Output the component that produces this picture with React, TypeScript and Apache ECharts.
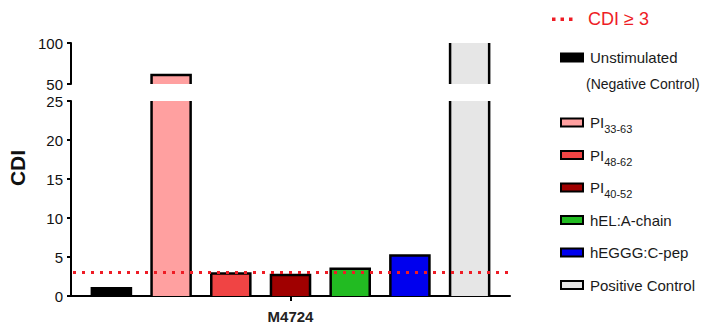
import React, { useEffect, useRef } from 'react';
import * as echarts from 'echarts';

const CATEGORIES = ['M4724'];
const SERIES_NAMES = ['Unstimulated', 'PI33-63', 'PI48-62', 'PI40-52', 'hEL:A-chain', 'hEGGG:C-pep', 'Positive Control'];
const SERIES_VALUES = [1.0, 61, 2.9, 2.7, 3.5, 5.2, 120];
const SERIES_COLORS = ['#000000', '#ffa0a0', '#f04444', '#a00000', '#22bb22', '#0000ee', '#e6e6e6'];
const THRESHOLD = 3;
const THRESHOLD_LABEL = 'CDI \u2265 3';
const NEG_CONTROL_NOTE = '(Negative Control)';
const Y_UPPER_RANGE = [50, 100];
const Y_UPPER_STEP = 50;
const Y_LOWER_RANGE = [0, 25];
const Y_LOWER_STEP = 5;
const Y_NAME = 'CDI';

const FONT = '"Liberation Sans", Arial, sans-serif';
const N = SERIES_NAMES.length;
const PITCH = 0.136; // fraction of band between bar centres
const BAR_W = 0.089; // fraction of band per bar
const BORDER = 2.5;

function makeBarRender(idx: number, lo: number, hi: number, color: string) {
  return (params: any, api: any) => {
    const v = api.value(1) as number;
    if (!(v > lo)) return null;
    const c = api.value(0);
    const basePt = api.coord([c, lo]);
    const topPt = api.coord([c, Math.min(v, hi)]);
    const band = api.size([1, 0])[0];
    const cx = basePt[0] + (idx - (N - 1) / 2) * band * PITCH;
    const w = band * BAR_W;
    const x0 = cx - w / 2;
    const x1 = cx + w / 2;
    const yb = basePt[1];
    const yt = topPt[1];
    const stroke = { stroke: '#000', lineWidth: BORDER, fill: 'none', lineJoin: 'miter' };
    const children: any[] = [
      { type: 'rect', shape: { x: x0, y: yt, width: w, height: yb - yt }, style: { fill: color } },
    ];
    if (v <= hi) {
      children.push({ type: 'polyline', shape: { points: [[x0, yb], [x0, yt], [x1, yt], [x1, yb]] }, style: stroke });
    } else {
      children.push({ type: 'line', shape: { x1: x0, y1: yb, x2: x0, y2: yt }, style: stroke });
      children.push({ type: 'line', shape: { x1: x1, y1: yb, x2: x1, y2: yt }, style: stroke });
    }
    return { type: 'group', children };
  };
}

function legendFormatter(name: string) {
  const m = /^PI(\d+-\d+)$/.exec(name);
  if (m) return `{m|PI}{s|${m[1]}}`;
  return `{m|${name}}{s| }`;
}

export default function App() {
  const ref = useRef<HTMLDivElement>(null);
  useEffect(() => {
    if (!ref.current) return;
    const chart = echarts.init(ref.current, undefined, { renderer: 'svg' });

    const axisLine = { show: true, lineStyle: { color: '#000', width: 2 } };
    const axisTick = { show: true, length: 4, lineStyle: { color: '#000', width: 2 } };
    const yLabel = { color: '#111', fontSize: 15, fontFamily: FONT, margin: 8 };

    const series: any[] = [];
    SERIES_NAMES.forEach((name, i) => {
      const color = SERIES_COLORS[i];
      [
        { grid: 0, lo: Y_UPPER_RANGE[0], hi: Y_UPPER_RANGE[1] },
        { grid: 1, lo: Y_LOWER_RANGE[0], hi: Y_LOWER_RANGE[1] },
      ].forEach((g) => {
        series.push({
          type: 'custom',
          name,
          xAxisIndex: g.grid,
          yAxisIndex: g.grid,
          itemStyle: { color, borderColor: '#000', borderWidth: 2 },
          encode: { x: 0, y: 1 },
          data: [[0, SERIES_VALUES[i]]],
          renderItem: makeBarRender(i, g.lo, g.hi, color),
          z: 2,
        });
      });
    });
    series.push({
      type: 'custom',
      name: THRESHOLD_LABEL,
      xAxisIndex: 1,
      yAxisIndex: 1,
      encode: { x: 0, y: 1 },
      data: [[0, THRESHOLD]],
      z: 10,
      renderItem: (params: any, api: any) => {
        const cs = params.coordSys;
        const y = api.coord([api.value(0), api.value(1)])[1];
        return {
          type: 'line',
          shape: { x1: cs.x + 2, y1: y, x2: cs.x + cs.width, y2: y },
          style: { stroke: '#ee1c25', lineWidth: 3, lineDash: [3, 6], lineCap: 'butt' },
        };
      },
    });

    const legendText = {
      color: '#1a1a1a',
      fontFamily: FONT,
      fontSize: 15,
      padding: [0, 0, 0, 2],
      rich: {
        m: { fontSize: 15, fontFamily: FONT, color: '#1a1a1a', lineHeight: 24, verticalAlign: 'middle' },
        s: { fontSize: 11, fontFamily: FONT, color: '#1a1a1a', lineHeight: 24, verticalAlign: 'bottom' },
      },
    };
    const legendCommon = {
      orient: 'vertical',
      left: 555,
      itemWidth: 22,
      itemHeight: 8,
      icon: 'rect',
      selectedMode: false,
      itemStyle: { borderColor: '#000', borderWidth: 2 },
      textStyle: legendText,
      formatter: legendFormatter,
    };

    chart.setOption({
      animation: false,
      grid: [
        { left: 71, top: 43, width: 439, height: 41 },
        { left: 71, top: 101, width: 439, height: 196 },
      ],
      xAxis: [
        { type: 'category', gridIndex: 0, data: CATEGORIES, show: false },
        {
          type: 'category',
          gridIndex: 1,
          data: CATEGORIES,
          axisLine,
          axisTick: { show: true, alignWithLabel: true, length: 5, lineStyle: { color: '#000', width: 2 } },
          axisLabel: { color: '#222', fontSize: 15, fontWeight: 'bold', fontFamily: FONT, margin: 13 },
        },
      ],
      yAxis: [
        {
          type: 'value',
          gridIndex: 0,
          min: Y_UPPER_RANGE[0],
          max: Y_UPPER_RANGE[1],
          interval: Y_UPPER_STEP,
          axisLine,
          axisTick,
          axisLabel: yLabel,
          splitLine: { show: false },
        },
        {
          type: 'value',
          gridIndex: 1,
          min: Y_LOWER_RANGE[0],
          max: Y_LOWER_RANGE[1],
          interval: Y_LOWER_STEP,
          axisLine,
          axisTick,
          axisLabel: yLabel,
          splitLine: { show: false },
        },
      ],
      legend: [
        { ...legendCommon, top: 45, data: [SERIES_NAMES[0]] },
        { ...legendCommon, top: 110, itemGap: 13, data: SERIES_NAMES.slice(1) },
      ],
      graphic: [
        {
          type: 'text',
          x: 17,
          y: 168,
          rotation: Math.PI / 2,
          style: { text: Y_NAME, font: `bold 21px ${FONT}`, fill: '#111', align: 'center', verticalAlign: 'middle' },
        },
        {
          type: 'text',
          x: 586,
          y: 84,
          style: { text: NEG_CONTROL_NOTE, font: `14px ${FONT}`, fill: '#1a1a1a', align: 'left', verticalAlign: 'middle' },
        },
        { type: 'rect', shape: { x: 552, y: 17.5, width: 3.5, height: 3.5 }, style: { fill: '#ee1c25' } },
        { type: 'rect', shape: { x: 560.5, y: 17.5, width: 3.5, height: 3.5 }, style: { fill: '#ee1c25' } },
        { type: 'rect', shape: { x: 569, y: 17.5, width: 3.5, height: 3.5 }, style: { fill: '#ee1c25' } },
        {
          type: 'text',
          x: 588,
          y: 19,
          style: { text: THRESHOLD_LABEL, font: `18px ${FONT}`, fill: '#ee1c25', align: 'left', verticalAlign: 'middle' },
        },
      ],
      series,
    });
    return () => chart.dispose();
  }, []);
  return <div ref={ref} style={{ position: 'fixed', left: 0, top: 0, width: 707, height: 324, background: '#fff' }} />;
}
